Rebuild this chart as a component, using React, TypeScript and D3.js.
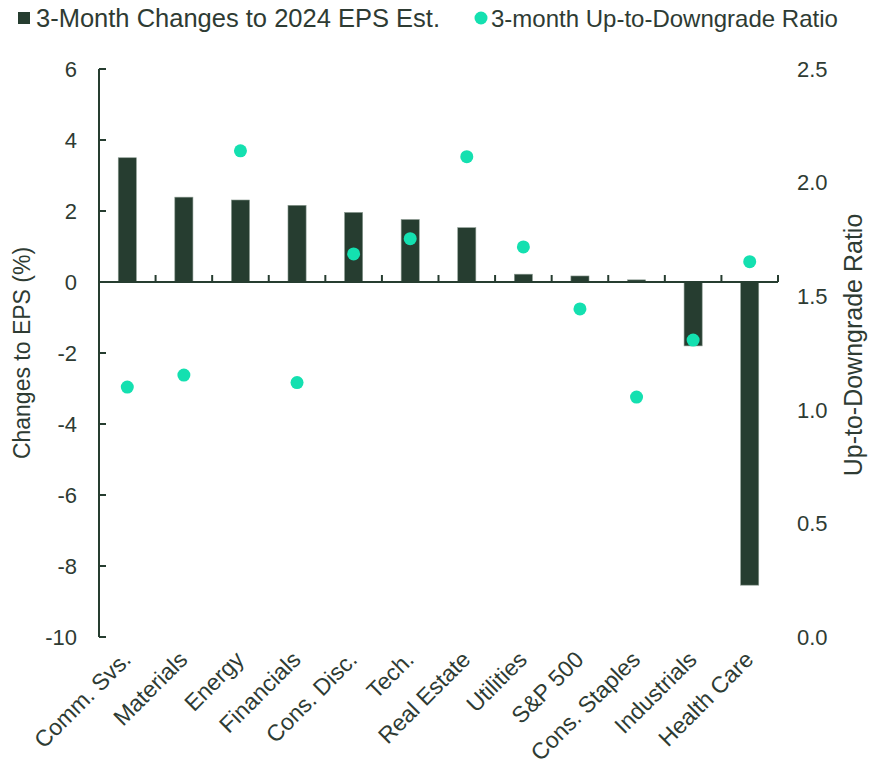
import React from "react";
import * as d3 from "d3";

const categories = ["Comm. Svs.", "Materials", "Energy", "Financials", "Cons. Disc.", "Tech.", "Real Estate", "Utilities", "S&P 500", "Cons. Staples", "Industrials", "Health Care"];
const epsChanges = [3.5, 2.39, 2.31, 2.16, 1.96, 1.76, 1.53, 0.22, 0.17, 0.06, -1.8, -8.54];
const upDownRatio = [1.1, 1.153, 2.14, 1.12, 1.686, 1.753, 2.114, 1.717, 1.444, 1.056, 1.307, 1.652];
const leftTicks = [6, 4, 2, 0, -2, -4, -6, -8, -10];
const rightTicks = [2.5, 2.0, 1.5, 1.0, 0.5, 0.0];

const BAR = "#263D30";
const DOT = "#14E0B0";
const TEXT = "#2E3B33";
const FONT = "'Liberation Sans', Arial, sans-serif";

export default function App() {
  const W = 870, H = 772;
  const x0 = 99, x1 = 778, yTop = 69, yBot = 637;
  const x = d3.scaleBand<string>().domain(categories).range([x0, x1]).paddingInner(0.68).paddingOuter(0.34);
  const y = d3.scaleLinear().domain([-10, 6]).range([yBot, yTop]);
  const yr = d3.scaleLinear().domain([0, 2.5]).range([yBot, yTop]);
  const step = x.step();
  const zero = y(0);

  return (
    <svg width={W} height={H} style={{ position: "absolute", left: 0, top: 0, background: "#fff" }} fontFamily={FONT}>
      {/* legend */}
      <rect x={18} y={12} width={12} height={12} fill={BAR} />
      <text x={36} y={27} fontSize={25.5} fill={TEXT}>3-Month Changes to 2024 EPS Est.</text>
      <circle cx={481} cy={18} r={6.5} fill={DOT} />
      <text x={491} y={27} fontSize={24} fill={TEXT}>3-month Up-to-Downgrade Ratio</text>

      {/* bars */}
      {categories.map((c, i) => {
        const v = epsChanges[i];
        return (
          <rect key={c} x={x(c)} y={Math.min(y(v), zero)} width={x.bandwidth()} height={Math.abs(y(v) - zero)} fill={BAR} stroke="#8a9a90" strokeWidth={0.6} />
        );
      })}

      {/* left axis */}
      <line x1={x0} x2={x0} y1={yTop} y2={yBot} stroke={BAR} strokeWidth={2} />
      {leftTicks.map((t) => (
        <g key={t}>
          <line x1={x0} x2={x0 + 7} y1={y(t)} y2={y(t)} stroke={BAR} strokeWidth={2} />
          <text x={77} y={y(t)} dy="0.35em" textAnchor="end" fontSize={22} fill={TEXT}>{t}</text>
        </g>
      ))}
      {/* zero axis */}
      <line x1={x0} x2={x1} y1={zero} y2={zero} stroke={BAR} strokeWidth={2} />
      {categories.map((c, i) => (
        <line key={c} x1={x0 + (i + 1) * step} x2={x0 + (i + 1) * step} y1={zero} y2={zero - 7} stroke={BAR} strokeWidth={2} />
      ))}

      {/* dots */}
      {categories.map((c, i) => (
        <circle key={c} cx={(x(c) as number) + x.bandwidth() / 2} cy={yr(upDownRatio[i])} r={6.5} fill={DOT} />
      ))}

      {/* right axis labels */}
      {rightTicks.map((t) => (
        <text key={t} x={797} y={yr(t)} dy="0.35em" fontSize={22} fill={TEXT}>{t.toFixed(1)}</text>
      ))}

      {/* category labels */}
      {categories.map((c) => {
        const cx = (x(c) as number) + x.bandwidth() / 2 + 5;
        const cy = 661;
        return (
          <text key={c} transform={`translate(${cx},${cy}) rotate(-45)`} textAnchor="end" fontSize={23} fill={TEXT}>{c}</text>
        );
      })}

      {/* axis titles */}
      <text transform={`translate(30,353) rotate(-90)`} textAnchor="middle" fontSize={23} fill={TEXT}>Changes to EPS (%)</text>
      <text transform={`translate(862,345) rotate(-90)`} textAnchor="middle" fontSize={25} fill={TEXT}>Up-to-Downgrade Ratio</text>
    </svg>
  );
}
